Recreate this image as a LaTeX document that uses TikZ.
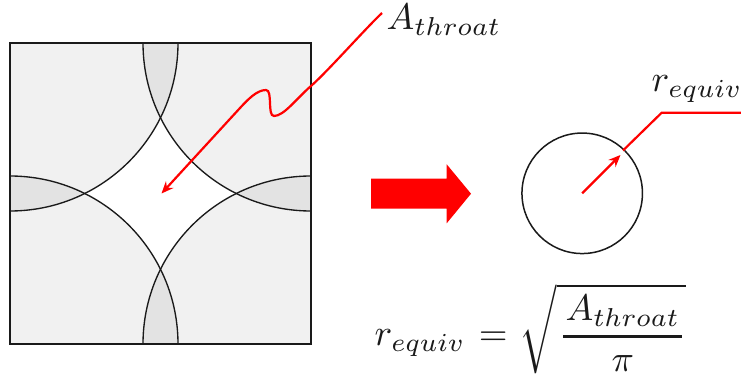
\documentclass[tikz,border=0pt]{standalone}
\usetikzlibrary{arrows.meta}
\definecolor{paleg}{HTML}{F1F1F1}
\definecolor{lensg}{HTML}{E3E3E3}
\definecolor{inkc}{HTML}{1A1A1A}
\tikzset{
  arcline/.style={draw=inkc,line width=1.35pt},
  redline/.style={draw=red,line width=2.2pt},
  redtip/.style={-{Stealth[length=12pt,width=10pt,inset=4pt]}},
  mathlabel/.style={text=inkc,inner sep=0pt,scale=3.7},
}
\begin{document}
\begin{tikzpicture}[x=1pt,y=-1pt]
\useasboundingbox (0,0) rectangle (741,382);
\coordinate (tl) at (10,43);
\coordinate (tr) at (311,43);
\coordinate (bl) at (10,344);
\coordinate (br) at (311,344);
\def\rad{168}
\begin{scope}
  \clip (tl) rectangle (br);
  \fill[white] (tl) rectangle (br);
  \foreach \c in {tl,tr,bl,br} \fill[paleg] (\c) circle (\rad);
  \foreach \a/\b in {tl/tr,tr/br,br/bl,bl/tl} {
    \begin{scope}
      \clip (\a) circle (\rad);
      \fill[lensg] (\b) circle (\rad);
    \end{scope}
  }
  \foreach \c in {tl,tr,bl,br} \draw[arcline] (\c) circle (\rad);
\end{scope}
\draw[draw=inkc,line width=2.5pt] (tl) rectangle (br);
% throat leader
\coordinate (athroatend) at (382,13);
\coordinate (athroattip) at (161.5,193.5);
\draw[redline,redtip] (athroatend) .. controls (365,29) and (328,71) .. (311,86)
  .. controls (297,98) and (284,116) .. (274,116)
  .. controls (267,116) and (273,90) .. (266,90)
  .. controls (257,90) and (248,99.3) .. (240,108)
  -- (athroattip);
\node[mathlabel,anchor=west] (athroat) at (386,20) {$A_{throat}$};
% block arrow
\fill[red] (371,178.7) -- (446.7,178.7) -- (446.7,164.3) -- (471,193.7) -- (446.7,223.3) -- (446.7,208.7) -- (371,208.7) -- cycle;
% circle
\node[circle,draw=inkc,line width=1.5pt,minimum size=120.5pt,inner sep=0pt] (equiv) at (582.2,193.3) {};
\coordinate (ecentre) at (582.2,193.3);
\coordinate (etip) at (620.5,155);
\coordinate (ebreak) at (661.7,112.7);
\coordinate (eend) at (741,112.7);
\draw[redline,redtip] (ecentre) -- (etip);
\draw[redline] (623,150.5) -- (ebreak) -- (eend);
\node[mathlabel,anchor=west] (requiv) at (651,89) {$r_{equiv}$};
\node[mathlabel,anchor=west] (formula) at (374,329) {$\displaystyle r_{equiv}\mskip1.5mu=\mskip1mu\sqrt{\mskip1mu{\mskip1muA_{throat}\mskip1mu\above0.65pt\pi}}$};
\end{tikzpicture}
\end{document}
